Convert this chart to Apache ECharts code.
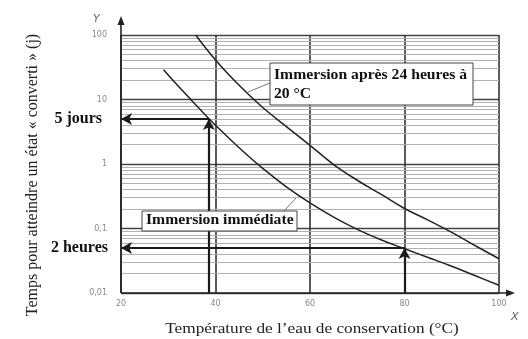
<!DOCTYPE html>
<html><head><meta charset="utf-8">
<script src="https://cdn.jsdelivr.net/npm/echarts@6/dist/echarts.min.js"></script>
<style>html,body{margin:0;padding:0;background:#fff}#c{width:528px;height:339px}</style>
</head><body><div id="c"></div>
<script>
// Data
const tempImmediate = [29, 32, 35, 38, 40, 45, 50, 55, 60, 65, 70, 75, 80, 85, 90, 95, 100];
const timeImmediate = [29, 16.5, 9.6, 5.6, 4.0, 1.79, 0.855, 0.443, 0.249, 0.15, 0.097, 0.067, 0.0486, 0.0355, 0.026, 0.0185, 0.0132];
const tempDelayed = [35.8, 40, 45, 50, 55, 60, 65, 70, 75, 80, 85, 90, 95, 100];
const timeDelayed = [100, 41, 16.6, 7.5, 3.8, 1.95, 0.98, 0.56, 0.34, 0.204, 0.135, 0.087, 0.054, 0.034];
const xTicks = [20, 40, 60, 80, 100];
const yTickLabels = {'0.01': '0,01', '0.1': '0,1', '1': '1', '10': '10', '100': '100'};
const readingTemps = [38.6, 80];
const readingTimes = [5, 0.05];
const readingLabels = ['5 jours', '2 heures'];
const labelDelayed = 'Immersion après 24 heures à\n20 °C';
const labelImmediate = 'Immersion immédiate';
const xTitle = 'Température de l\u2019eau de conservation (°C)';
const yTitle = 'Temps pour atteindre un état « converti » (j)';

const SERIF = '"Liberation Serif", "DejaVu Serif", serif';
const yMin = 0.01, yMax = 100;

// minor log grid lines (2..9 of each decade)
const minorGrid = [];
for (let d = yMin; d < yMax; d *= 10) {
  for (let k = 2; k <= 9; k++) minorGrid.push({yAxis: +(d * k).toPrecision(3)});
}

const labelDistances = [19, 13];
const arrowLines = [];
readingTemps.forEach((t, i) => {
  arrowLines.push([{coord: [t, yMin]}, {coord: [t, readingTimes[i]]}]);
  arrowLines.push([{coord: [t, readingTimes[i]],
                    label: {show: true, formatter: readingLabels[i], distance: labelDistances[i]}},
                   {coord: [xTicks[0], readingTimes[i]]}]);
});

const chart = echarts.init(document.getElementById('c'), null, {renderer: 'canvas'});
const gl = 121, gt = 35, gr = 499, gb = 293;
chart.setOption({
  animation: false,
  grid: {left: gl, top: gt, right: 528 - gr, bottom: 339 - gb, show: false},
  xAxis: {
    type: 'value', min: 20, max: 100, interval: 20,
    axisLine: {show: false},
    axisTick: {show: false},
    axisLabel: {color: '#888', fontSize: 8, margin: 7, fontFamily: 'DejaVu Sans'},
    splitLine: {show: true, lineStyle: {color: '#333', width: 1.6}}
  },
  yAxis: {
    type: 'log', logBase: 10, min: yMin, max: yMax,
    axisLine: {show: false},
    axisTick: {show: false},
    axisLabel: {color: '#888', fontSize: 8, margin: 14, fontFamily: 'DejaVu Sans',
      formatter: v => yTickLabels[String(+v.toPrecision(3))] || ''},
    splitLine: {show: true, lineStyle: {color: '#444', width: 1.4}}
  },
  series: [
    {
      type: 'line', data: [], z: 1, silent: true,
      markLine: {silent: true, symbol: ['none', 'none'], z: 1, label: {show: false},
        lineStyle: {color: '#b0b0b0', width: 1, type: 'solid'}, data: minorGrid}
    },
    {
      name: 'delayed', type: 'line', smooth: 0.4, showSymbol: false, z: 3,
      lineStyle: {color: '#222', width: 1.5},
      data: tempDelayed.map((t, i) => [t, timeDelayed[i]])
    },
    {
      name: 'immediate', type: 'line', smooth: 0.4, showSymbol: false, z: 3,
      lineStyle: {color: '#222', width: 1.5},
      data: tempImmediate.map((t, i) => [t, timeImmediate[i]]),
      markLine: {
        silent: true, z: 4, symbol: ['none', 'arrow'], symbolSize: [9, 11],
        lineStyle: {color: '#1a1a1a', width: 2.2, type: 'solid'},
        itemStyle: {color: '#1a1a1a'},
        label: {show: false, position: 'end', distance: 14, fontFamily: SERIF,
          fontWeight: 'bold', fontSize: 16, color: '#111'},
        data: arrowLines
      }
    }
  ],
  graphic: [
    // axes with arrows
    {type: 'line', shape: {x1: gl, y1: gb, x2: 510, y2: gb}, style: {stroke: '#222', lineWidth: 1.6}, z: 10},
    {type: 'polygon', shape: {points: [[515, gb], [506, gb - 3.5], [506, gb + 3.5]]}, style: {fill: '#222'}, z: 10},
    {type: 'line', shape: {x1: gl, y1: gb, x2: gl, y2: 22}, style: {stroke: '#222', lineWidth: 1.6}, z: 10},
    {type: 'polygon', shape: {points: [[gl, 16], [gl - 3.5, 25], [gl + 3.5, 25]]}, style: {fill: '#222'}, z: 10},
    {type: 'text', left: 93, top: 14, style: {text: 'Y', font: 'italic 11px "DejaVu Sans"', fill: '#666'}},
    {type: 'text', left: 511, top: 312, style: {text: 'X', font: 'italic 11px "DejaVu Sans"', fill: '#666'}},
    // axis titles
    {type: 'text', x: 33, y: 175, rotation: Math.PI / 2,
      style: {text: yTitle, font: '16px ' + SERIF, fill: '#222', align: 'center', verticalAlign: 'middle'}},
    {type: 'text', x: 312, y: 329, scaleX: 1.15,
      style: {text: xTitle, font: '15px ' + SERIF, fill: '#222', align: 'center', verticalAlign: 'middle'}},
    // annotation boxes
    {type: 'line', shape: {x1: 270, y1: 83, x2: 248, y2: 92}, style: {stroke: '#777', lineWidth: 1}, z: 10},
    {type: 'rect', shape: {x: 270, y: 63, width: 203, height: 42}, style: {fill: '#fff', stroke: '#444', lineWidth: 1}, z: 10},
    {type: 'text', x: 274, y: 66, z: 11, scaleX: 1.12,
      style: {text: labelDelayed, font: 'bold 14px ' + SERIF, fill: '#111', lineHeight: 19}},
    {type: 'line', shape: {x1: 284, y1: 211, x2: 296, y2: 198}, style: {stroke: '#777', lineWidth: 1}, z: 10},
    {type: 'rect', shape: {x: 142, y: 211, width: 155, height: 20}, style: {fill: '#fff', stroke: '#444', lineWidth: 1}, z: 10},
    {type: 'text', x: 146, y: 213, z: 11, scaleX: 1.12,
      style: {text: labelImmediate, font: 'bold 14px ' + SERIF, fill: '#111'}}
  ]
});
</script>
</body></html>
